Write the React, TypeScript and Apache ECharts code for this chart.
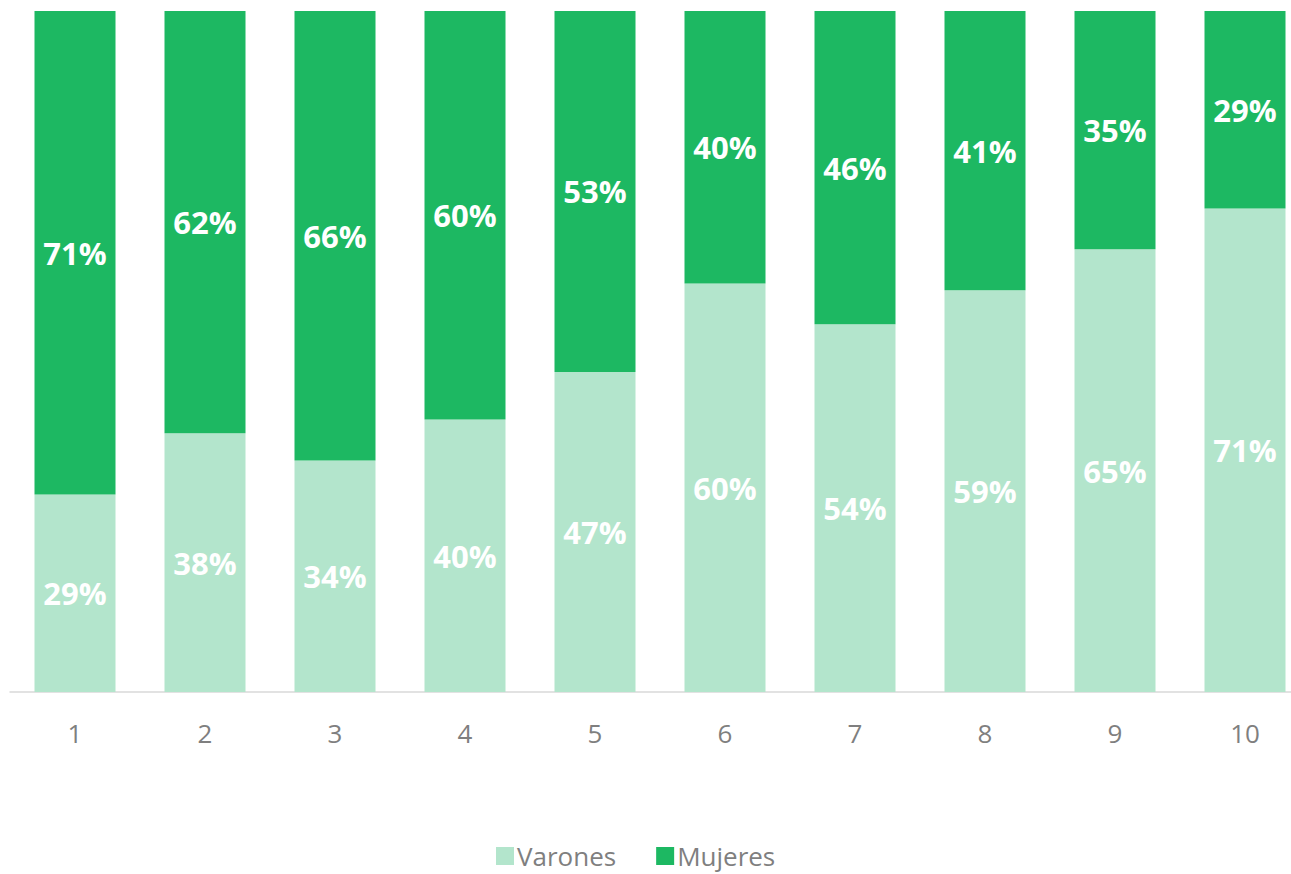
import React, { useEffect, useRef } from "react";
import * as echarts from "echarts";

const categories = ["1", "2", "3", "4", "5", "6", "7", "8", "9", "10"];
const varones = [29, 38, 34, 40, 47, 60, 54, 59, 65, 71];
const mujeres = [71, 62, 66, 60, 53, 40, 46, 41, 35, 29];

const FONT = "'Open Sans', Lato, sans-serif";

export default function App() {
  const ref = useRef<HTMLDivElement>(null);
  useEffect(() => {
    if (!ref.current) return;
    const chart = echarts.init(ref.current, undefined, { renderer: "svg" });
    const label = {
      show: true,
      position: "inside",
      color: "#ffffff",
      fontWeight: "bold",
      fontSize: 31,
      fontFamily: FONT,
      formatter: (p: any) => `${p.value}%`,
    };
    chart.setOption({
      animation: false,
      textStyle: { fontFamily: FONT },
      grid: { left: 10, top: 11, width: 1300, height: 681, containLabel: false },
      legend: {
        data: ["Varones", "Mujeres"],
        top: 843,
        left: 496,
        padding: 0,
        itemWidth: 18,
        itemHeight: 18,
        itemGap: 40,
        icon: "rect",
        textStyle: {
          color: "#7f7f7f",
          fontSize: 26,
          lineHeight: 26,
          fontFamily: FONT,
          padding: [0, 0, 0, -2],
        },
      },
      xAxis: {
        type: "category",
        data: categories,
        axisLine: { show: true, lineStyle: { color: "#d9d9d9", width: 1.5 } },
        axisTick: { show: false },
        axisLabel: { color: "#7f7f7f", fontSize: 26, margin: 28, fontFamily: FONT },
      },
      yAxis: {
        type: "value",
        min: 0,
        max: 100,
        show: false,
        splitLine: { show: false },
      },
      series: [
        {
          name: "Varones",
          type: "bar",
          stack: "total",
          barWidth: 81,
          data: varones,
          itemStyle: { color: "#b3e5cc" },
          label,
        },
        {
          name: "Mujeres",
          type: "bar",
          stack: "total",
          barWidth: 81,
          data: mujeres,
          itemStyle: { color: "#1db862" },
          label,
        },
      ],
    });
    return () => chart.dispose();
  }, []);
  return (
    <div
      style={{ position: "absolute", left: 0, top: 0, width: 1291, height: 874, overflow: "hidden", background: "#fff" }}
    >
      <div ref={ref} style={{ width: 1330, height: 874 }} />
    </div>
  );
}
